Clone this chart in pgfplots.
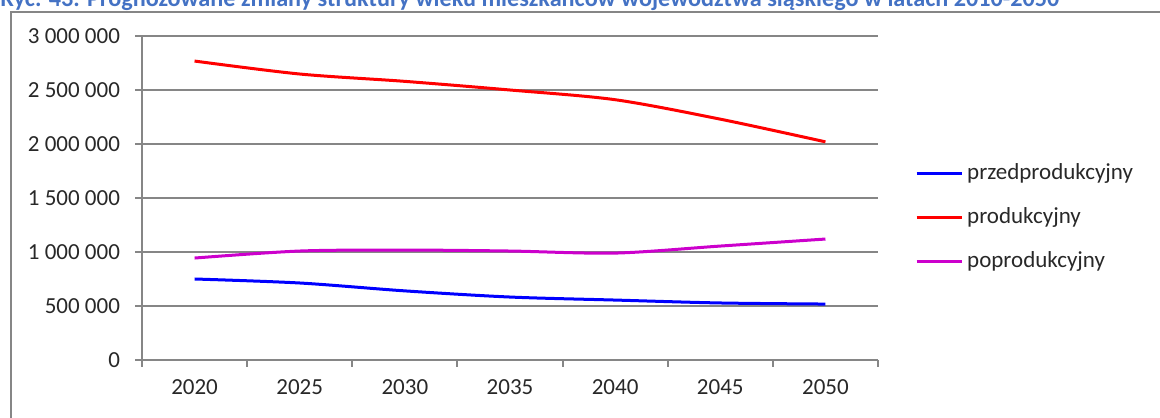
\documentclass[border=0pt]{standalone}
\usepackage{pgfplots}
\pgfplotsset{compat=1.18}
\usepackage{fontspec}
\setmainfont{Carlito}
\definecolor{gridgray}{RGB}{134,134,134}
\definecolor{titleblue}{RGB}{68,114,196}
\definecolor{txt}{RGB}{40,40,40}
\definecolor{plum}{RGB}{204,0,204}
\begin{document}
\begin{tikzpicture}
\useasboundingbox (0,0) rectangle (580pt,208.5pt);
\clip (0,0) rectangle (580pt,208.5pt);
% caption, cut at the top as in the source
\node[anchor=base west, inner sep=0pt, text=titleblue, font=\fontsize{12.1}{14}\selectfont\bfseries]
  at (0pt,205pt) {Ryc. 43. Prognozowane zmiany struktury wieku mieszkańców województwa śląskiego w latach 2010-2050};
% chart frame
\draw[gridgray, line width=1pt] (5.5pt,-5pt) -- (5.5pt,202.5pt) -- (590pt,202.5pt);
\begin{axis}[
    at={(71pt,28.5pt)}, anchor=south west,
    scale only axis, width=368pt, height=162pt,
    xmin=-0.5, xmax=6.5, ymin=0, ymax=3000000,
    axis x line*=bottom, axis y line*=left,
    axis line style={gridgray, line width=1pt},
    tick style={gridgray, line width=1pt},
    tick align=outside, major tick length=3.5pt,
    ymajorgrids, grid style={gridgray, line width=1pt},
    scaled y ticks=false,
    ytick={0,500000,1000000,1500000,2000000,2500000,3000000},
    yticklabels={0,500 000,1 000 000,1 500 000,2 000 000,2 500 000,3 000 000},
    yticklabel style={xshift=-4pt},
    xtick={-0.5,0.5,1.5,2.5,3.5,4.5,5.5,6.5},
    xticklabels={{},{},{},{},{},{},{},{}},
    xticklabel style={yshift=-6.5pt},
    extra x ticks={0,1,2,3,4,5,6},
    extra x tick labels={2020,2025,2030,2035,2040,2045,2050},
    extra x tick style={major tick length=0pt},
    ticklabel style={font=\fontsize{11.5}{13}\selectfont, text=txt},
    legend style={at={(1.05,0.441)}, anchor=west, draw=none, fill=none,
      font=\fontsize{11.5}{13}\selectfont, text=txt, row sep=8.5pt, inner sep=0pt},
    legend cell align=left,
    legend image code/.code={\draw[#1] (0pt,0pt) -- (22.5pt,0pt);},
    every axis plot/.append style={line width=1.5pt, smooth, no markers},
]
\addplot[blue] coordinates {(0,750000) (1,713000) (2,640000) (3,583000) (4,555000) (5,528000) (6,518000)};
\addlegendentry{przedprodukcyjny}
\addplot[red] coordinates {(0,2768000) (1,2648000) (2,2580000) (3,2500000) (4,2410000) (5,2230000) (6,2020000)};
\addlegendentry{produkcyjny}
\addplot[plum] coordinates {(0,944000) (1,1009000) (2,1018000) (3,1009000) (4,990000) (5,1055000) (6,1120000)};
\addlegendentry{poprodukcyjny}
\end{axis}
\end{tikzpicture}
\end{document}
